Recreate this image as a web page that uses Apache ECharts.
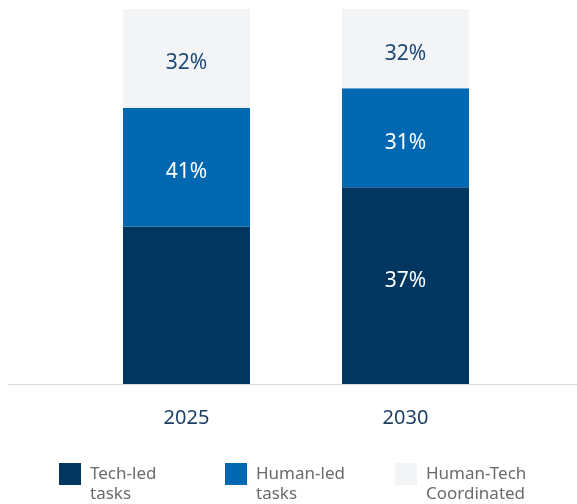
<!DOCTYPE html>
<html>
<head>
<meta charset="utf-8">
<script src="https://cdn.jsdelivr.net/npm/echarts@6/dist/echarts.min.js"></script>
<style>html,body{margin:0;padding:0;background:#fff;}#c{width:577px;height:504px;}</style>
</head>
<body>
<div id="c"></div>
<script>
// Data (segment heights; printed labels as shown)
const categories = ['2025', '2030'];
const seriesNames = ['Tech-led tasks', 'Human-led tasks', 'Human-Tech Coordinated'];
const techValues = [42, 52.5];
const humanValues = [31.7, 26.4];
const coordValues = [26.3, 21.1];
const techLabels = ['', '37%'];
const humanLabels = ['41%', '31%'];
const coordLabels = ['32%', '32%'];

const colors = ['#003660', '#0067B1', '#F3F4F6'];
const FONT = '"Noto Sans", sans-serif';

function labelFrom(arr, color, offset) {
  return {
    show: true, position: 'inside', color: color, fontFamily: FONT, fontSize: 21,
    offset: offset,
    formatter: p => arr[p.dataIndex]
  };
}

const chart = echarts.init(document.getElementById('c'));
const legendBase = {
  orient: 'horizontal', top: 439, padding: 5, itemWidth: 22, itemHeight: 22, icon: 'rect',
  selectedMode: false,
  formatter: n => '{e|}\n' + n.split(' ').map(w => '{t|' + w + '}').join('\n'),
  textStyle: {
    fontFamily: FONT, fontSize: 17, color: '#6b6b6b', lineHeight: 20,
    rich: {
      e: { fontFamily: FONT, fontSize: 17, lineHeight: 20 },
      t: { fontFamily: FONT, fontSize: 17, color: '#6b6b6b', lineHeight: 20, padding: [0, 0, 0, 4] }
    }
  }
};
chart.setOption({
  animation: false,
  color: colors,
  legend: [
    Object.assign({}, legendBase, { left: 54, data: [seriesNames[0]] }),
    Object.assign({}, legendBase, { left: 220, data: [seriesNames[1]] }),
    Object.assign({}, legendBase, { left: 390, data: [seriesNames[2]] })
  ],
  grid: [
    { left: 77, right: 62, top: 9, bottom: 120 },
    { left: 8, right: 0, top: 9, bottom: 120 }
  ],
  xAxis: [
    {
      type: 'category', data: categories, gridIndex: 0,
      axisLine: { show: false }, axisTick: { show: false },
      axisLabel: { color: '#1d3f66', fontFamily: FONT, fontSize: 20, margin: 24 }
    },
    {
      type: 'value', gridIndex: 1, min: 0, max: 1,
      axisLine: { show: true, lineStyle: { color: '#d9d9d9', width: 1 } },
      axisTick: { show: false }, axisLabel: { show: false }, splitLine: { show: false }
    }
  ],
  yAxis: [
    { type: 'value', gridIndex: 0, min: 0, max: 100, show: false, splitLine: { show: false } },
    { type: 'value', gridIndex: 1, min: 0, max: 1, show: false, splitLine: { show: false } }
  ],
  series: [
    { name: seriesNames[0], type: 'bar', stack: 's', barWidth: 127, data: techValues,
      itemStyle: { color: colors[0] }, label: labelFrom(techLabels, '#ffffff', [0, -5]) },
    { name: seriesNames[1], type: 'bar', stack: 's', barWidth: 127, data: humanValues,
      itemStyle: { color: colors[1] }, label: labelFrom(humanLabels, '#ffffff', [0, 5]) },
    { name: seriesNames[2], type: 'bar', stack: 's', barWidth: 127, data: coordValues,
      itemStyle: { color: colors[2] }, label: labelFrom(coordLabels, '#1d4a78', [0, 5]) }
  ]
});
</script>
</body>
</html>
